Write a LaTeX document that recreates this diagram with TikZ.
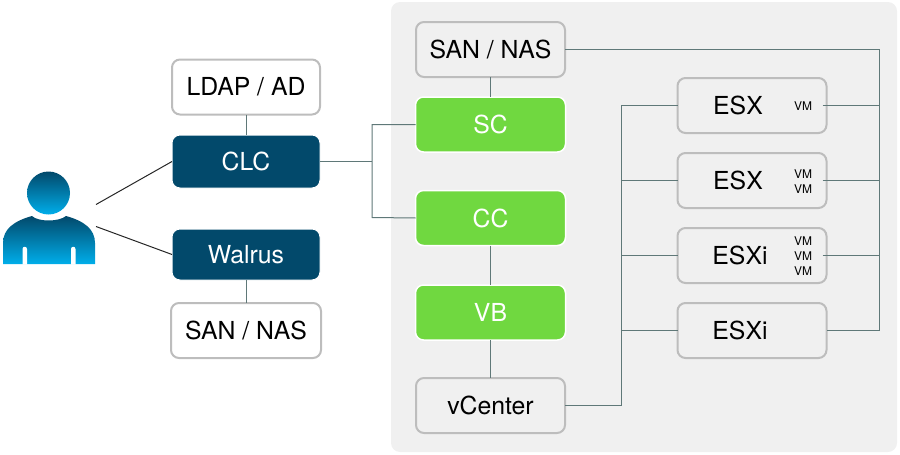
\documentclass[tikz,border=0pt]{standalone}
\usepackage{fontspec}
\setmainfont{TeX Gyre Heros}
\definecolor{panel}{HTML}{F0F0F0}
\definecolor{edgegray}{HTML}{BDBDBD}
\definecolor{wire}{HTML}{5F7878}
\definecolor{navy}{HTML}{02496B}
\definecolor{leaf}{HTML}{70D840}
\definecolor{skyb}{HTML}{00AEEA}
\tikzset{
  x=1pt,y=-1pt,
  every node/.style={inner sep=0pt,outer sep=0pt},
  base/.style={rounded corners=8pt,minimum height=#1,font=\fontsize{24.8}{26}\selectfont},
  whitebox/.style={base=#1,draw=edgegray,line width=2pt,fill=white,text=black,minimum width=148pt},
  graybox/.style={base=#1,draw=edgegray,line width=2pt,fill=panel,text=black,minimum width=149pt},
  navybox/.style={base=#1,fill=navy,draw=white,line width=1pt,text=white,minimum width=148pt},
  greenbox/.style={base=#1,fill=leaf,draw=white,line width=1.5pt,text=white,minimum width=150pt},
  vmlabel/.style={font=\fontsize{12}{13}\selectfont,text=black},
  wireline/.style={draw=wire,line width=1pt},
  blackline/.style={draw=black!85,line width=1pt},
  personpart/.style={top color=navy,bottom color=skyb,draw=none},
}
\begin{document}
\begin{tikzpicture}
\useasboundingbox (0,0) rectangle (900,455);
\fill[panel,rounded corners=9pt] (391,2) rectangle (897,452);

% person
\shade[personpart] (48.5,193) circle (21.5);
\shade[personpart] (3,264) -- (3,243) .. controls (3,229) and (14,221) .. (32,216)
  .. controls (38,222) and (59,222) .. (66,216) .. controls (84,221) and (95,229) .. (95,243) -- (95,264) -- cycle;
\fill[white] (22.5,264.5) -- (22.5,249) .. controls (22.5,246) and (27,246) .. (27,249) -- (27,264.5) -- cycle;
\fill[white] (71,264.5) -- (71,249) .. controls (71,246) and (75.5,246) .. (75.5,249) -- (75.5,264.5) -- cycle;
\coordinate (personA) at (96,204.5);
\coordinate (personB) at (96,226.5);

% left column
\node[whitebox=55pt] (ldap) at (246,87) {LDAP / AD};
\node[navybox=53pt] (clc) at (246,161.5) {CLC};
\node[navybox=51pt] (walrus) at (246,254.5) {Walrus};
\node[whitebox=55pt,minimum width=150pt] (sanb) at (246,330.5) {SAN / NAS};

% middle column
\node[graybox=55pt] (sant) at (490.5,49.5) {SAN / NAS};
\node[greenbox=55pt] (sc) at (490.5,124.5) {SC};
\node[greenbox=55pt] (cc) at (490.5,218) {CC};
\node[greenbox=55pt] (vb) at (490.5,312.5) {VB};
\node[graybox=55pt] (vc) at (490.5,405.5) {vCenter};

% right column
\node[graybox=55pt] (e1) at (752,105.5) {};
\node[graybox=55pt] (e2) at (752,180.5) {};
\node[graybox=55pt] (e3) at (752,255.5) {};
\node[graybox=55pt] (e4) at (752,330.5) {};
\node[base=20pt] at (738,105.5) {ESX};
\node[base=20pt] at (738,180.5) {ESX};
\node[base=20pt] at (740,255.5) {ESXi};
\node[base=20pt] at (740,330.5) {ESXi};
\node[vmlabel] (v1) at (803,106) {VM};
\node[vmlabel] (v2a) at (803,174.5) {VM};
\node[vmlabel] (v2b) at (803,189.5) {VM};
\node[vmlabel] (v3a) at (803,241.5) {VM};
\node[vmlabel] (v3b) at (803,256.5) {VM};
\node[vmlabel] (v3c) at (803,271.5) {VM};

% connectors
\coordinate (busR) at (879,49.5);
\coordinate (busRend) at (879,330.5);
\coordinate (busL) at (621,105.5);
\coordinate (busLend) at (621,405.5);
\coordinate (tee) at (372,161.5);
\coordinate (teeS) at (372,124.5);
\coordinate (teeC) at (372,217.5);
\coordinate (s1) at (822.5,105.5);
\coordinate (s2) at (822.5,180.5);
\coordinate (s3) at (822.5,255.5);

\draw[blackline] (personA) -- (clc.west);
\draw[blackline] (personB) -- (walrus.west);
\draw[wireline] (ldap) -- (clc);
\draw[wireline] (walrus) -- (sanb);
\draw[wireline] (clc.east) -- (tee);
\draw[wireline] (sc.west) -- (teeS) -- (teeC) -- (cc.west);
\draw[wireline] (sant) -- (sc);
\draw[wireline] (cc) -- (vb);
\draw[wireline] (vb) -- (vc);
\draw[wireline] (sant.east) -- (busR) -- (busRend) -- (e4.east);
\draw[wireline] (s1) -- (busR |- s1);
\draw[wireline] (s2) -- (busR |- s2);
\draw[wireline] (s3) -- (busR |- s3);
\draw[wireline] (vc.east) -- (busLend) -- (busL) -- (e1.west);
\draw[wireline] (e2.west) -- (busL |- e2.west);
\draw[wireline] (e3.west) -- (busL |- e3.west);
\draw[wireline] (e4.west) -- (busL |- e4.west);
\end{tikzpicture}
\end{document}
